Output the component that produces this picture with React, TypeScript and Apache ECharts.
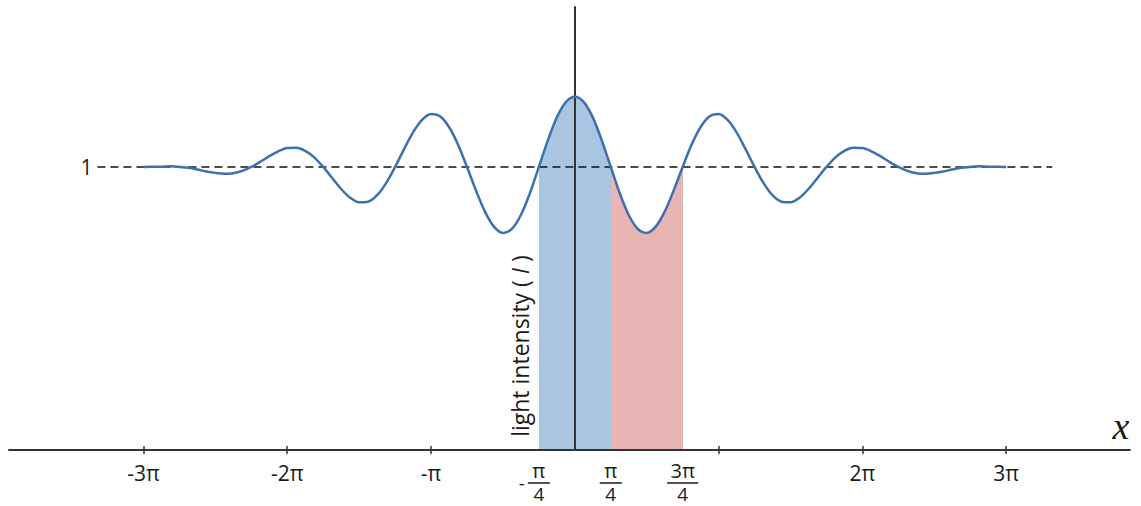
import React, { useEffect, useRef } from "react";
import * as echarts from "echarts";

// x positions in units of π (sampled every π/16)
const X_VALUES = [
  -3, -2.9375, -2.875, -2.8125, -2.75, -2.6875, -2.625, -2.5625, -2.5, -2.4375, -2.375, -2.3125,
  -2.25, -2.1875, -2.125, -2.0625, -2, -1.9375, -1.875, -1.8125, -1.75, -1.6875, -1.625, -1.5625,
  -1.5, -1.4375, -1.375, -1.3125, -1.25, -1.1875, -1.125, -1.0625, -1, -0.9375, -0.875, -0.8125,
  -0.75, -0.6875, -0.625, -0.5625, -0.5, -0.4375, -0.375, -0.3125, -0.25, -0.1875, -0.125, -0.0625,
  0,
  0.0625, 0.125, 0.1875, 0.25, 0.3125, 0.375, 0.4375, 0.5, 0.5625, 0.625, 0.6875, 0.75,
  0.8125, 0.875, 0.9375, 1, 1.0625, 1.125, 1.1875, 1.25, 1.3125, 1.375, 1.4375, 1.5,
  1.5625, 1.625, 1.6875, 1.75, 1.8125, 1.875, 1.9375, 2, 2.0625, 2.125, 2.1875, 2.25,
  2.3125, 2.375, 2.4375, 2.5, 2.5625, 2.625, 2.6875, 2.75, 2.8125, 2.875, 2.9375, 3,
];

// light intensity
const CURVE_Y = [
  1.0, 1.001, 1.001, 1.002, 1.0, 0.997, 0.991, 0.984, 0.979, 0.976, 0.978, 0.986,
  1.0, 1.018, 1.038, 1.055, 1.067, 1.068, 1.057, 1.034, 1.0, 0.961, 0.922, 0.891,
  0.875, 0.877, 0.9, 0.943, 1.0, 1.063, 1.122, 1.166, 1.187, 1.179, 1.141, 1.079,
  1.0, 0.917, 0.842, 0.789, 0.767, 0.781, 0.83, 0.907, 1.0, 1.094, 1.175, 1.229,
  1.248,
  1.229, 1.175, 1.094, 1.0, 0.907, 0.83, 0.781, 0.767, 0.789, 0.842, 0.917, 1.0,
  1.079, 1.141, 1.179, 1.187, 1.166, 1.122, 1.063, 1.0, 0.943, 0.9, 0.877, 0.875,
  0.891, 0.922, 0.961, 1.0, 1.034, 1.057, 1.068, 1.067, 1.055, 1.038, 1.018, 1.0,
  0.986, 0.978, 0.976, 0.979, 0.984, 0.991, 0.997, 1.0, 1.002, 1.001, 1.001, 1.0,
];

const TICK_VALUES = [-3, -2, -1, 1, 2, 3];
const LABEL_VALUES = [-3, -2, -1, -0.25, 0.25, 0.75, 2, 3];
const LABEL_TEXTS = ["-3π", "-2π", "-π", "-π/4", "π/4", "3π/4", "2π", "3π"];

const BLUE_RANGE = [-0.25, 0.25];
const RED_RANGE = [0.25, 0.75];
const REFERENCE_LEVEL = 1;
const REFERENCE_SPAN = [-3.32, 3.32];

const X_MIN = -3.935;
const X_MAX = 3.861;
const Y_MIN = 0;
const Y_MAX = 1.565;

const LINE_COLOR = "#3c71b0";
const BLUE_FILL = "#aac5e2";
const RED_FILL = "#e9b4b4";
const AXIS_COLOR = "#333";
const TEXT_COLOR = "#1a1a1a";
const FONT = "'Open Sans', 'Noto Sans', sans-serif";
const LABEL_SIZE = 21;
const FRACTION_SIZE = 19;

function formatLabel(v: number): string {
  const idx = LABEL_VALUES.findIndex((lv) => Math.abs(lv - v) < 1e-6);
  if (idx < 0) return "";
  const t = LABEL_TEXTS[idx];
  if (t.indexOf("/") < 0) return `{i|${t}}`;
  let neg = false;
  let s = t;
  if (s[0] === "-") {
    neg = true;
    s = s.slice(1);
  }
  const [num, den] = s.split("/");
  const barKey = num.length > 1 ? "bar3" : "bar1";
  const mid = neg ? `{mm|-}{${barKey}|}{sp|}` : `{${barKey}|}`;
  return `{n|${num}}\n${mid}\n{d|${den}}`;
}

export default function App() {
  const ref = useRef<HTMLDivElement>(null);

  useEffect(() => {
    if (!ref.current) return;
    const chart = echarts.init(ref.current, undefined, { renderer: "svg" });
    const data = X_VALUES.map((x, i) => [x, CURVE_Y[i]]);

    const option: any = {
      animation: false,
      grid: { left: 9, right: 11, top: 7, bottom: 56, containLabel: false },
      xAxis: [
        {
          type: "value",
          min: X_MIN,
          max: X_MAX,
          z: 3,
          axisLine: { show: true, onZero: false, lineStyle: { color: AXIS_COLOR, width: 2 } },
          axisTick: {
            show: true,
            inside: false,
            length: 4,
            customValues: TICK_VALUES,
            lineStyle: { color: AXIS_COLOR, width: 1.5 },
          },
          axisLabel: {
            show: true,
            customValues: LABEL_VALUES,
            margin: 11,
            formatter: (v: number) => formatLabel(v),
            rich: {
              i: { fontSize: LABEL_SIZE, fontFamily: FONT, color: TEXT_COLOR, lineHeight: 24 },
              n: { fontSize: FRACTION_SIZE + 1, fontFamily: FONT, color: TEXT_COLOR, lineHeight: 19 },
              d: { fontSize: FRACTION_SIZE, fontFamily: FONT, color: TEXT_COLOR, lineHeight: 16 },
              bar1: { width: 22, height: 1.5, backgroundColor: TEXT_COLOR, lineHeight: 6 },
              bar3: { width: 31, height: 1.5, backgroundColor: TEXT_COLOR, lineHeight: 6 },
              mm: {
                width: 12,
                fontSize: FRACTION_SIZE,
                fontFamily: FONT,
                color: TEXT_COLOR,
                lineHeight: 6,
                align: "center",
              },
              sp: { width: 12, lineHeight: 6 },
            },
          },
          splitLine: { show: false },
        },
        {
          type: "value",
          min: X_MIN,
          max: X_MAX,
          position: "bottom",
          z: 3,
          axisLine: { show: false },
          axisTick: {
            show: true,
            inside: true,
            length: 4,
            customValues: TICK_VALUES,
            lineStyle: { color: AXIS_COLOR, width: 1.5 },
          },
          axisLabel: { show: false },
          splitLine: { show: false },
        },
      ],
      yAxis: {
        type: "value",
        min: Y_MIN,
        max: Y_MAX,
        z: 3,
        axisLine: { show: true, onZero: true, lineStyle: { color: AXIS_COLOR, width: 2 } },
        axisTick: { show: false },
        axisLabel: { show: false },
        splitLine: { show: false },
      },
      visualMap: {
        type: "piecewise",
        show: false,
        dimension: 0,
        seriesIndex: 0,
        pieces: [
          { gte: BLUE_RANGE[0], lte: BLUE_RANGE[1], color: BLUE_FILL },
          { gt: RED_RANGE[0], lte: RED_RANGE[1], color: RED_FILL },
        ],
        outOfRange: { color: "rgba(0,0,0,0)" },
      },
      series: [
        {
          type: "line",
          xAxisIndex: 0,
          data,
          smooth: 0.3,
          showSymbol: false,
          silent: true,
          z: 2,
          lineStyle: { width: 0, opacity: 0 },
          areaStyle: { opacity: 1 },
          markLine: {
            silent: true,
            symbol: "none",
            z: 5,
            lineStyle: { type: [8, 5], color: "#111", width: 1.5 },
            label: {
              show: true,
              position: "start",
              formatter: String(REFERENCE_LEVEL),
              distance: 5,
              fontSize: LABEL_SIZE,
              fontFamily: FONT,
              color: TEXT_COLOR,
            },
            data: [
              [
                { coord: [REFERENCE_SPAN[0], REFERENCE_LEVEL] },
                { coord: [REFERENCE_SPAN[1], REFERENCE_LEVEL] },
              ],
            ],
          },
        },
        {
          type: "line",
          xAxisIndex: 0,
          data,
          smooth: 0.3,
          showSymbol: false,
          silent: true,
          z: 6,
          lineStyle: { width: 2.5, color: LINE_COLOR },
          itemStyle: { color: LINE_COLOR },
        },
      ],
      graphic: [
        {
          type: "text",
          x: 520,
          y: 346,
          rotation: Math.PI / 2,
          z: 10,
          style: {
            text: "{a|light intensity ( }{b|I}{a| )}",
            align: "center",
            verticalAlign: "middle",
            rich: {
              a: { fontSize: 23, fontFamily: FONT, fill: TEXT_COLOR },
              b: { fontSize: 23, fontFamily: FONT, fontStyle: "italic", fill: TEXT_COLOR },
            },
          },
        },
        {
          type: "text",
          x: 1121,
          y: 426,
          z: 10,
          style: {
            text: "x",
            align: "center",
            verticalAlign: "middle",
            fontSize: 38,
            fontFamily: "'Liberation Serif', serif",
            fontStyle: "italic",
            fill: TEXT_COLOR,
          },
        },
      ],
    };

    chart.setOption(option);
    return () => chart.dispose();
  }, []);

  return (
    <div
      ref={ref}
      style={{ position: "absolute", left: 0, top: 0, width: 1141, height: 506 }}
    />
  );
}
